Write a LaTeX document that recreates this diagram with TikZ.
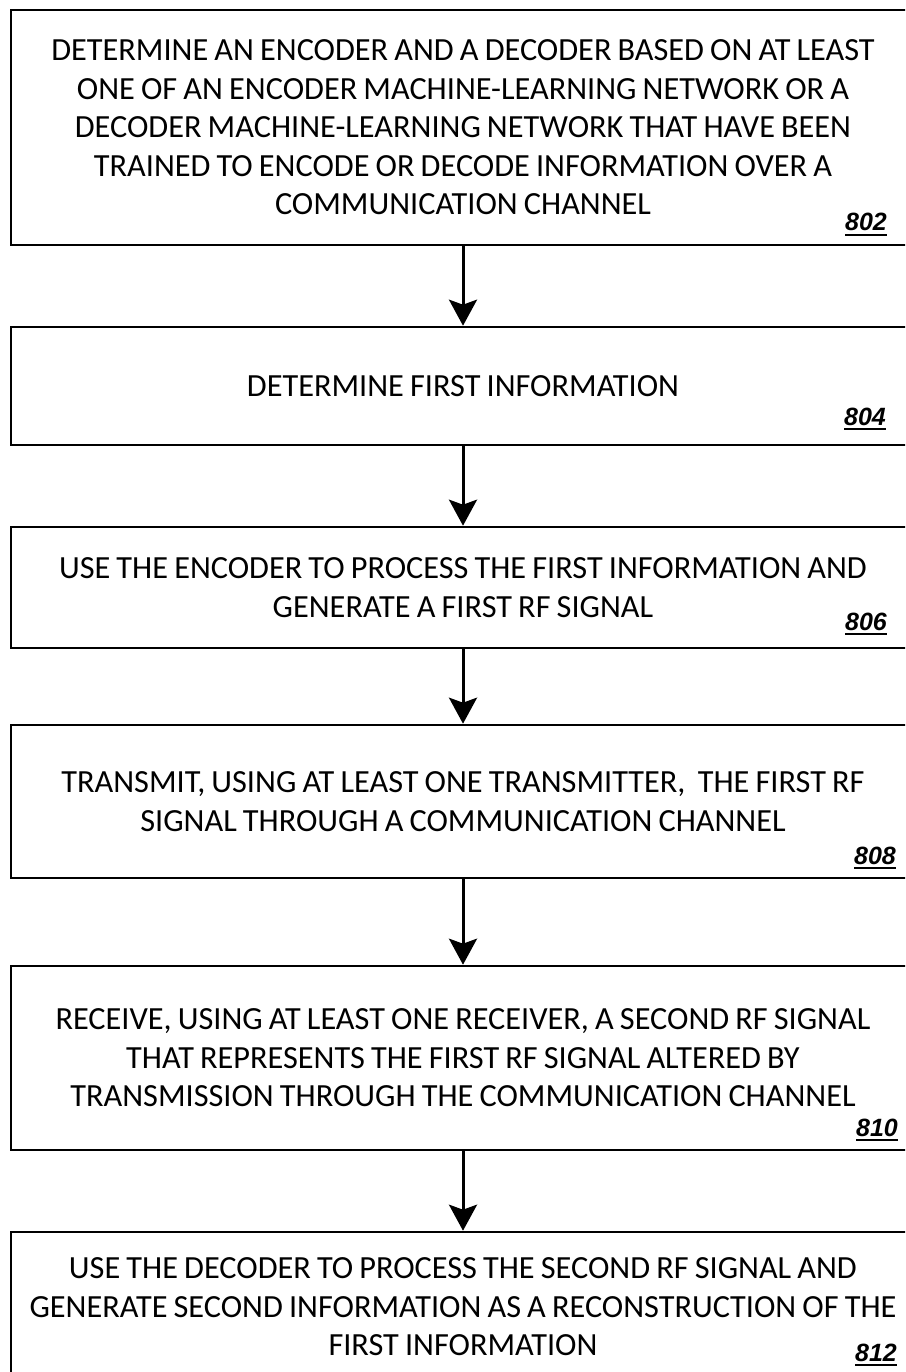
\documentclass[tikz,border=0pt]{standalone}
\usepackage{fontspec}
\setmainfont{Carlito}
\newfontfamily\labfont{Liberation Sans}
\usetikzlibrary{arrows.meta}
\newcommand{\tightspaces}{\spaceskip=0.19em\relax\xspaceskip=0.19em\relax}
\tikzset{
  stepbox/.style={draw=black, line width=2.6pt, minimum width=904pt, text width=900pt,
    align=center, inner sep=0pt, font=\fontsize{32.3}{38.5}\selectfont,
    execute at begin node=\tightspaces},
  reflabel/.style={anchor=base east, inner sep=0pt, font=\labfont\fontsize{25}{25}\selectfont\bfseries\itshape},
  flow/.style={line width=3pt, -{Stealth[length=26pt,width=28pt,inset=5pt]}}
}
\newcommand{\refnum}[1]{\setbox0\hbox{#1}\vtop{\copy0\kern2.5pt\hrule height 2.4pt width \wd0}}
\begin{document}
\begin{tikzpicture}[x=1pt,y=-1pt]
\useasboundingbox (0,0) rectangle (905,1372);
\clip (0,0) rectangle (905,1372);
\node[stepbox, minimum height=235pt] (b802) at (463,127.5) {DETERMINE AN ENCODER AND A DECODER BASED ON AT LEAST\\ONE OF AN ENCODER MACHINE-LEARNING NETWORK OR A\\DECODER MACHINE-LEARNING NETWORK THAT HAVE BEEN\\TRAINED TO ENCODE OR DECODE INFORMATION OVER A\\COMMUNICATION CHANNEL};
\node[stepbox, minimum height=118pt] (b804) at (463,386) {DETERMINE FIRST INFORMATION};
\node[stepbox, minimum height=121pt] (b806) at (463,587.5) {USE THE ENCODER TO PROCESS THE FIRST INFORMATION AND\\GENERATE A FIRST RF SIGNAL};
\node[stepbox, minimum height=153pt] (b808) at (463,801.5) {TRANSMIT, USING AT LEAST ONE TRANSMITTER,\ \ THE FIRST RF\\SIGNAL THROUGH A COMMUNICATION CHANNEL};
\node[stepbox, minimum height=184pt] (b810) at (463,1058) {RECEIVE, USING AT LEAST ONE RECEIVER, A SECOND RF SIGNAL\\THAT REPRESENTS THE FIRST RF SIGNAL ALTERED BY\\TRANSMISSION THROUGH THE COMMUNICATION CHANNEL};
\node[stepbox, minimum height=150pt] (b812) at (463,1307) {USE THE DECODER TO PROCESS THE SECOND RF SIGNAL AND\\GENERATE SECOND INFORMATION AS A RECONSTRUCTION OF THE\\FIRST INFORMATION};
\node[reflabel] (l802) at (887,231) {\refnum{802}};
\node[reflabel] (l804) at (886,425) {\refnum{804}};
\node[reflabel] (l806) at (887,630) {\refnum{806}};
\node[reflabel] (l808) at (896,864) {\refnum{808}};
\node[reflabel] (l810) at (898,1136) {\refnum{810}};
\node[reflabel] (l812) at (897,1361) {\refnum{812}};
\draw[flow] (b802.south) -- (b804.north);
\draw[flow] (b804.south) -- (b806.north);
\draw[flow] (b806.south) -- (b808.north);
\draw[flow] (b808.south) -- (b810.north);
\draw[flow] (b810.south) -- (b812.north);
\end{tikzpicture}
\end{document}
